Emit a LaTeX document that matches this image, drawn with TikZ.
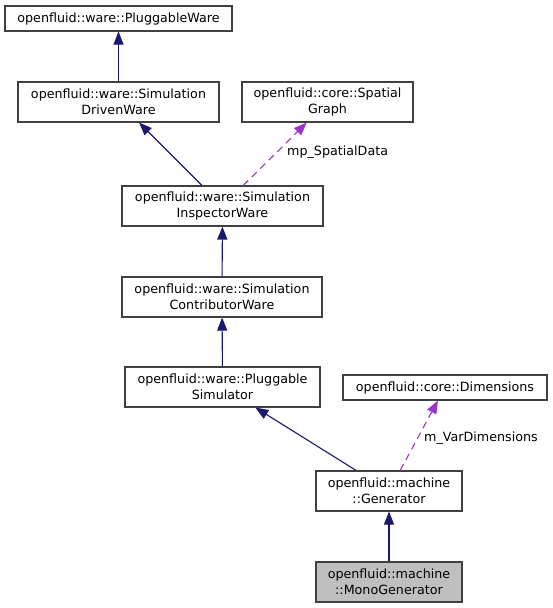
\documentclass[tikz,border=0pt]{standalone}
\usepackage{fontspec}
\setmainfont{DejaVu Sans}
\usetikzlibrary{arrows.meta}
\definecolor{edgeblue}{HTML}{191970}
\definecolor{edgepurple}{HTML}{9A32CD}
\definecolor{boxborder}{HTML}{404040}
\definecolor{boxfill}{HTML}{BFBFBF}
\begin{document}
\begin{tikzpicture}[x=1pt,y=-1pt,
  cls/.style={draw=boxborder, line width=1.1pt, inner sep=0pt, align=center,
    font=\fontsize{12.7}{15.5}\selectfont, text=black},
  current/.style={cls, fill=boxfill},
  inherit/.style={draw=edgeblue, line width=1.1pt,
    -{Triangle[length=13pt,width=10pt,fill=edgeblue]}},
  usage/.style={draw=edgepurple, line width=1.1pt, dash pattern=on 7pt off 5pt,
    -{Triangle[length=13pt,width=10pt,fill=edgepurple]}},
  lbl/.style={anchor=west, inner sep=0pt, font=\fontsize{12.7}{15.5}\selectfont, text=black}]
\useasboundingbox (0,0) rectangle (552,608);
\fill[white] (0,0) rectangle (552,608);

\node[cls, minimum width=227pt, minimum height=25pt] (pw) at (118.5,18.5) {openfluid::ware::PluggableWare};
\node[cls, minimum width=201pt, minimum height=40pt] (dw) at (118.5,102) {openfluid::ware::Simulation\\DrivenWare};
\node[cls, minimum width=171pt, minimum height=40pt] (sg) at (327.5,102) {openfluid::core::Spatial\\Graph};
\node[cls, minimum width=201pt, minimum height=40pt] (iw) at (222.5,206) {openfluid::ware::Simulation\\InspectorWare};
\node[cls, minimum width=200pt, minimum height=40pt] (cw) at (222,297) {openfluid::ware::Simulation\\ContributorWare};
\node[cls, minimum width=195pt, minimum height=40pt] (ps) at (222.5,387) {openfluid::ware::Pluggable\\Simulator};
\node[cls, minimum width=204pt, minimum height=25pt] (dim) at (445,387.5) {openfluid::core::Dimensions};
\node[cls, minimum width=146pt, minimum height=40pt] (gen) at (389,491) {openfluid::machine\\::Generator};
\node[current, minimum width=146pt, minimum height=40pt] (mono) at (389,582) {openfluid::machine\\::MonoGenerator};

\draw[inherit] (dw) -- (pw);
\draw[inherit] (iw) -- (dw);
\draw[usage] (iw) -- (sg);
\draw[inherit] (cw) -- (iw);
\draw[inherit] (ps) -- (cw);
\draw[inherit] (gen) -- (ps);
\draw[usage] (gen) -- (dim);
\draw[inherit] (mono) -- (gen);

\node[lbl] (l1) at (287,152) {mp\_SpatialData};
\node[lbl] (l2) at (424,438) {m\_VarDimensions};
\end{tikzpicture}
\end{document}
